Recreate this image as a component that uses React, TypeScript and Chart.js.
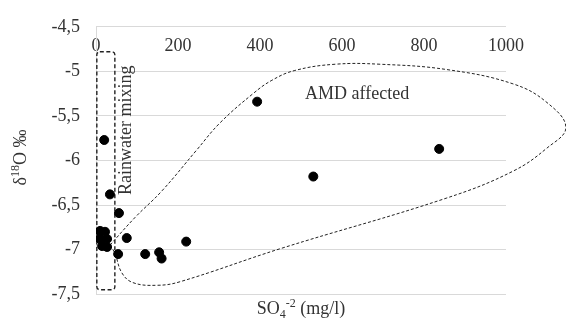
import React, { useEffect, useRef } from "react";
import { Chart, registerables } from "chart.js";

Chart.register(...registerables);

// Measured samples: sulfate (mg/l) vs δ18O (‰)
const sulfate = [20, 34, 56, 75, 54, 120, 154, 160, 220, 393, 530, 837, 10, 22, 10, 27, 15, 27];
const d18O = [-5.77, -6.38, -6.59, -6.87, -7.05, -7.05, -7.03, -7.1, -6.91, -5.34, -6.18, -5.87, -6.79, -6.8, -6.88, -6.88, -6.96, -6.97];

// Dashed "AMD affected" envelope, in data units
const envelopeX = [34, 95, 161, 246, 302, 383, 429, 485, 583, 693, 856, 1017, 1100, 1146, 1100, 1017, 856, 449, 205, 149, 90, 63, 46, 34];
const envelopeY = [-6.95, -6.64, -6.34, -5.88, -5.58, -5.25, -5.1, -4.99, -4.92, -4.92, -4.98, -5.14, -5.35, -5.63, -5.86, -6.12, -6.42, -6.99, -7.36, -7.4, -7.37, -7.26, -7.04, -6.95];

// "Rainwater mixing" box, in data units
const rainBoxX = [2, 46];
const rainBoxY = [-7.45, -4.78];

const xTicks = { min: 0, max: 1000, step: 200 };
const yTicks = { min: -7.5, max: -4.5, step: 0.5 };

// Axis titles as [text, size, baseline shift] runs (sub/superscripts)
const xTitleRuns: [string, number, number][] = [["SO", 18, 0], ["4", 12, 4], ["-2", 12, -7], [" (mg/l)", 18, 0]];
const yTitleRuns: [string, number, number][] = [["\u03B4", 18, 0], ["18", 12, -7], ["O \u2030", 18, 0]];
const rainLabel = "Rainwater mixing";
const amdLabel = "AMD affected";
const rainLabelPos = [73, -5.66];
const amdLabelPos = [510, -5.305];

const FONT_FAMILY = "'Liberation Serif', 'Times New Roman', serif";
const TEXT = "#333333";
const GRID = "#d9d9d9";

function drawRuns(ctx: CanvasRenderingContext2D, runs: [string, number, number][], cx: number, baseY: number) {
  let total = 0;
  for (const [t, s] of runs) {
    ctx.font = `${s}px ${FONT_FAMILY}`;
    total += ctx.measureText(t).width;
  }
  let x = cx - total / 2;
  ctx.textAlign = "left";
  ctx.textBaseline = "alphabetic";
  for (const [t, s, dy] of runs) {
    ctx.font = `${s}px ${FONT_FAMILY}`;
    ctx.fillText(t, x, baseY + dy);
    x += ctx.measureText(t).width;
  }
}

const annotations = {
  id: "annotations",
  beforeDatasetsDraw(chart: any) {
    const { ctx, scales, chartArea } = chart;
    const xs = scales.x;
    const ys = scales.y;
    ctx.save();
    // rainwater box
    const x0 = xs.getPixelForValue(rainBoxX[0]);
    const x1 = xs.getPixelForValue(rainBoxX[1]);
    const y0 = ys.getPixelForValue(rainBoxY[1]);
    const y1 = ys.getPixelForValue(rainBoxY[0]);
    ctx.strokeStyle = "#222";
    ctx.lineWidth = 1.4;
    ctx.setLineDash([4, 2.5]);
    ctx.beginPath();
    (ctx as any).roundRect(x0, y0, x1 - x0, y1 - y0, 3);
    ctx.stroke();
    ctx.setLineDash([]);
    // labels
    ctx.fillStyle = TEXT;
    ctx.font = `18px ${FONT_FAMILY}`;
    ctx.save();
    ctx.translate(xs.getPixelForValue(rainLabelPos[0]), ys.getPixelForValue(rainLabelPos[1]));
    ctx.rotate(-Math.PI / 2);
    ctx.textAlign = "center";
    ctx.textBaseline = "middle";
    ctx.fillText(rainLabel, 0, 0);
    ctx.restore();
    ctx.textAlign = "left";
    ctx.textBaseline = "alphabetic";
    ctx.fillText(amdLabel, xs.getPixelForValue(amdLabelPos[0]), ys.getPixelForValue(amdLabelPos[1]));

    // axis titles
    drawRuns(ctx, xTitleRuns, (chartArea.left + chartArea.right) / 2, chartArea.bottom + 20);
    ctx.save();
    ctx.translate(26, (chartArea.top + chartArea.bottom) / 2 - 3);
    ctx.rotate(-Math.PI / 2);
    drawRuns(ctx, yTitleRuns, 0, 0);
    ctx.restore();
    ctx.restore();
  },
};

export default function App() {
  const ref = useRef<HTMLCanvasElement | null>(null);
  useEffect(() => {
    if (!ref.current) return;
    const font = { family: FONT_FAMILY, size: 18 };
    const chart = new Chart(ref.current, {
      type: "scatter",
      data: {
        datasets: [
          {
            label: "samples",
            data: sulfate.map((x, i) => ({ x, y: d18O[i] })),
            backgroundColor: "#000",
            borderColor: "#000",
            pointRadius: 4.5,
            pointHoverRadius: 4.5,
            order: 0,
          },
          {
            label: "envelope",
            data: envelopeX.map((x, i) => ({ x, y: envelopeY[i] })),
            showLine: true,
            pointRadius: 0,
            borderColor: "#222",
            borderWidth: 1,
            borderDash: [3, 2],
            tension: 0.4,
            capBezierPoints: false,
            fill: false,
            clip: false,
            order: 1,
          } as any,
        ],
      },
      options: {
        animation: false,
        responsive: true,
        maintainAspectRatio: false,
        layout: { padding: { left: 0, right: 60, top: 0, bottom: 24 } },
        plugins: { legend: { display: false }, tooltip: { enabled: false } },
        scales: {
          x: {
            type: "linear",
            position: "top",
            min: xTicks.min,
            max: xTicks.max,
            ticks: {
              stepSize: xTicks.step,
              mirror: true,
              padding: 9,
              autoSkip: false,
              maxRotation: 0,
              font,
              color: TEXT,
              callback: (v: any) => String(v),
            },
            grid: { display: false, drawTicks: false },
            border: { display: false },
            afterFit: (s: any) => {
              s.height = 21;
            },
          },
          y: {
            type: "linear",
            min: yTicks.min,
            max: yTicks.max,
            ticks: {
              stepSize: yTicks.step,
              padding: 16,
              font,
              color: TEXT,
              callback: (v: any) => String(Math.round(Number(v) * 10) / 10).replace(".", ","),
            },
            grid: { color: GRID, drawTicks: false, lineWidth: 1 },
            border: { display: true, color: GRID },
            afterFit: (s: any) => {
              s.width = 96;
            },
          },
        },
      } as any,
      plugins: [annotations],
    });
    return () => chart.destroy();
  }, []);
  return (
    <div style={{ position: "absolute", left: 0, top: 0, width: 566, height: 321 }}>
      <canvas ref={ref} />
    </div>
  );
}
